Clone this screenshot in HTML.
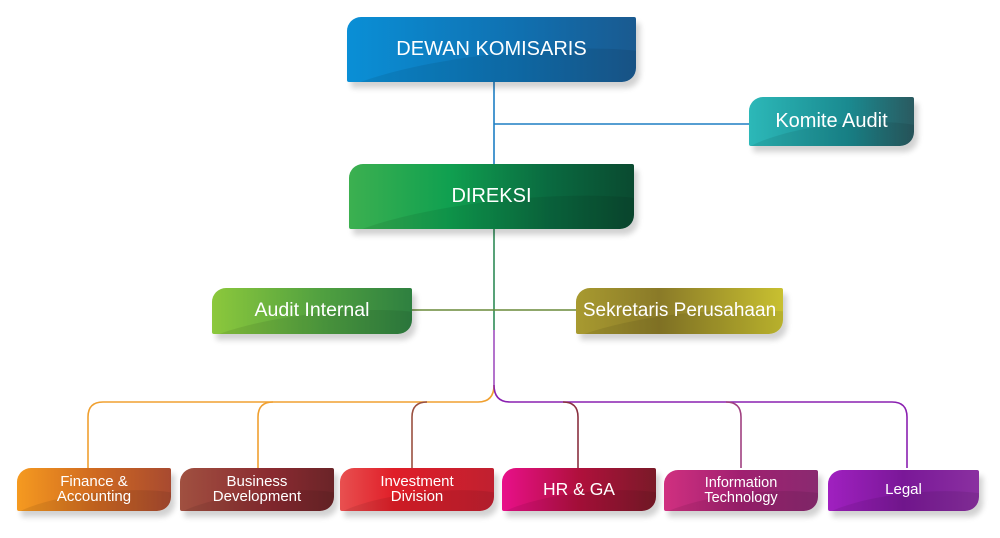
<!DOCTYPE html>
<html><head><meta charset="utf-8"><style>
body{margin:0;width:1000px;height:538px;background:#fff;position:relative;overflow:hidden;font-family:"Liberation Sans",sans-serif}
.b{position:absolute;color:#fff;display:flex;align-items:center;justify-content:center;text-align:center;border-radius:14px 2px 14px 2px;box-shadow:4px 6px 6px rgba(0,0,0,0.18);overflow:hidden;line-height:0.98}
.b::before{content:"";position:absolute;left:-10%;top:55%;width:130%;height:120%;border-radius:50% 50% 0 0;background:rgba(0,0,0,0.08);transform:rotate(-6deg)}
.b span{position:relative}
svg{position:absolute;left:0;top:0}
</style></head><body>
<svg width="1000" height="538" fill="none" stroke-width="1.6">
<path d="M494 82V164M494 124H749" stroke="#1e7fc4"/>
<path d="M494 229V330" stroke="#2e8b57"/>
<path d="M412 310H576" stroke="#6a8a3a"/>
<path d="M494 330V385" stroke="#a050c0"/>
<path d="M494 385Q494 402 478 402H103Q88 402 88 417V468" stroke="#f0a030"/>
<path d="M273 402Q258 402 258 417V468" stroke="#f0a030"/>
<path d="M427 402Q412 402 412 417V468" stroke="#9a5040"/>
<path d="M494 385Q494 402 510 402H892Q907 402 907 417V468" stroke="#8a20b0"/>
<path d="M563 402Q578 402 578 417V468" stroke="#8a3040"/>
<path d="M726 402Q741 402 741 417V468" stroke="#a04080"/>
</svg>
<div class="b" style="left:347px;top:17px;width:289px;height:65px;background:linear-gradient(90deg,#0a8fd6,#1070b0 60%,#1a5a90);font-size:20px"><span>DEWAN KOMISARIS</span></div>
<div class="b" style="left:749px;top:97px;width:165px;height:49px;background:linear-gradient(90deg,#2cb8b8,#1a8a90 60%,#2a5a60);font-size:20px"><span>Komite Audit</span></div>
<div class="b" style="left:349px;top:164px;width:285px;height:65px;background:linear-gradient(90deg,#3cb050,#10a050 35%,#0a6a40 70%,#0a4a30);font-size:20px"><span>DIREKSI</span></div>
<div class="b" style="left:212px;top:288px;width:200px;height:46px;background:linear-gradient(90deg,#8cc83c,#50a040 55%,#2e8040);font-size:19.5px"><span>Audit Internal</span></div>
<div class="b" style="left:576px;top:288px;width:207px;height:46px;background:linear-gradient(90deg,#a89a30,#8a7a28 40%,#c8c030 100%);font-size:19px"><span>Sekretaris Perusahaan</span></div>
<div class="b" style="left:17px;top:468px;width:154px;height:43px;background:linear-gradient(90deg,#f59a20,#d06a20 50%,#a84a30);font-size:15px"><span>Finance &amp;<br>Accounting</span></div>
<div class="b" style="left:180px;top:468px;width:154px;height:43px;background:linear-gradient(90deg,#a05040,#8a2a30 60%,#6a2428);font-size:15px"><span>Business<br>Development</span></div>
<div class="b" style="left:340px;top:468px;width:154px;height:43px;background:linear-gradient(90deg,#e85050,#e01e28 35%,#c02030);font-size:15px"><span>Investment<br>Division</span></div>
<div class="b" style="left:502px;top:468px;width:154px;height:43px;background:linear-gradient(90deg,#e8108a,#b0103c 50%,#7a1a28);font-size:17.5px"><span>HR &amp; GA</span></div>
<div class="b" style="left:664px;top:470px;width:154px;height:41px;background:linear-gradient(90deg,#d03080,#a02070 50%,#8a2a70);font-size:14.5px"><span>Information<br>Technology</span></div>
<div class="b" style="left:828px;top:470px;width:151px;height:41px;background:linear-gradient(90deg,#a020c0,#7a1898 50%,#8a30a0);font-size:15px"><span>Legal</span></div>
</body></html>
